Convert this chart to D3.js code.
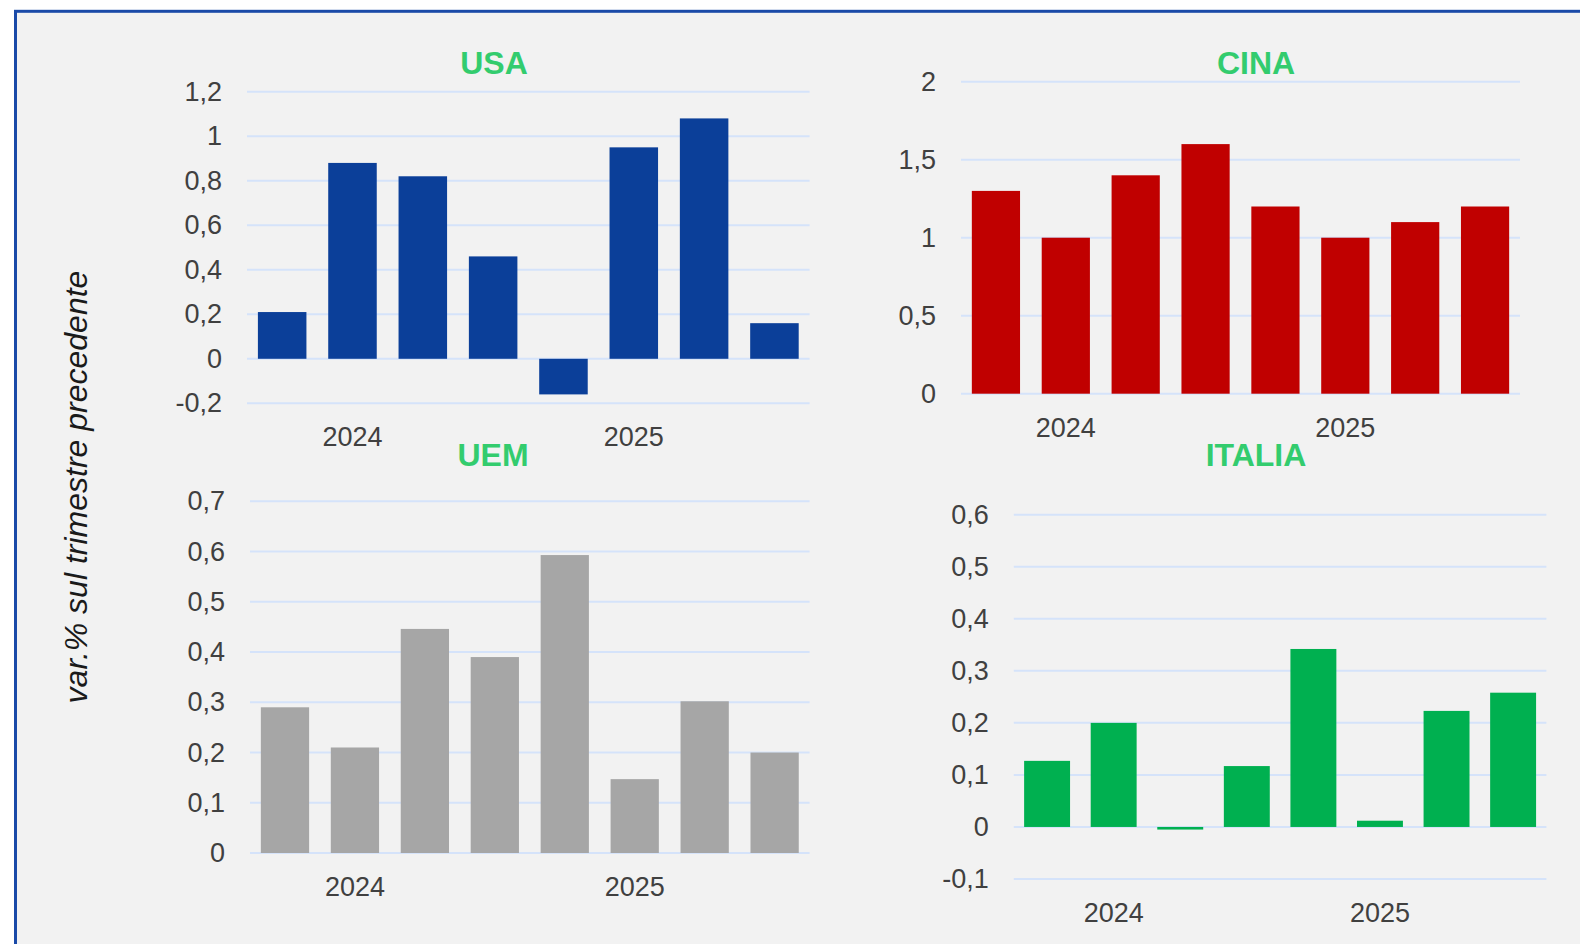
<!DOCTYPE html>
<html>
<head>
<meta charset="utf-8">
<script src="https://cdn.jsdelivr.net/npm/d3@7"></script>
<style>
  html, body { margin: 0; padding: 0; background: #ffffff; }
  svg { display: block; }
</style>
</head>
<body>
<svg id="chart" width="1580" height="944"></svg>
<script>
// ---------------- DATA ----------------
const categories = ["2024 T1", "2024 T2", "2024 T3", "2024 T4", "2025 T1", "2025 T2", "2025 T3", "2025 T4"];
const xTickLabels = ["", "2024", "", "", "", "2025", "", ""];

const usaValues    = [0.21, 0.88, 0.82, 0.46, -0.16, 0.95, 1.08, 0.16];
const cinaValues   = [1.3, 1.0, 1.4, 1.6, 1.2, 1.0, 1.1, 1.2];
const uemValues    = [0.29, 0.21, 0.446, 0.39, 0.593, 0.147, 0.302, 0.20];
const italiaValues = [0.127, 0.20, -0.005, 0.117, 0.342, 0.012, 0.223, 0.258];

const usaTicks    = [-0.2, 0, 0.2, 0.4, 0.6, 0.8, 1, 1.2];
const cinaTicks   = [0, 0.5, 1, 1.5, 2];
const uemTicks    = [0, 0.1, 0.2, 0.3, 0.4, 0.5, 0.6, 0.7];
const italiaTicks = [-0.1, 0, 0.1, 0.2, 0.3, 0.4, 0.5, 0.6];

const panelTitles = ["USA", "CINA", "UEM", "ITALIA"];
const yAxisTitle = "var.% sul trimestre precedente";

// ---------------- LAYOUT / STYLE ----------------
const panels = [
  { title: panelTitles[0], values: usaValues, ticks: usaTicks, color: "#0B3F99",
    x0: 247, x1: 809.6, yTop: 91.7, yBot: 403.3, tx: 494, ty: 62.5 },
  { title: panelTitles[1], values: cinaValues, ticks: cinaTicks, color: "#C00000",
    x0: 961, x1: 1520, yTop: 81.7, yBot: 393.7, tx: 1256, ty: 62.5 },
  { title: panelTitles[2], values: uemValues, ticks: uemTicks, color: "#A6A6A6",
    x0: 250, x1: 809.6, yTop: 501.3, yBot: 853, tx: 493, ty: 454.5 },
  { title: panelTitles[3], values: italiaValues, ticks: italiaTicks, color: "#00B050",
    x0: 1013.8, x1: 1546.4, yTop: 514.7, yBot: 879, tx: 1256, ty: 454.5 }
];

const locale = d3.formatLocale({ decimal: ",", thousands: ".", grouping: [3], currency: ["", "€"], minus: "-" });
const fmt = locale.format("~f");

const svg = d3.select("#chart");

// frame
svg.append("rect")
  .attr("x", 15.5).attr("y", 11.3)
  .attr("width", 1620).attr("height", 1000)
  .attr("fill", "#F2F2F2")
  .attr("stroke", "#1A4AA8")
  .attr("stroke-width", 3);

const tickFont = "'Liberation Sans', Arial, sans-serif";

panels.forEach(p => {
  const ext = d3.extent(p.ticks);
  const y = d3.scaleLinear().domain(ext).range([p.yBot, p.yTop]);
  const x = d3.scaleBand().domain(categories).range([p.x0, p.x1])
    .paddingInner(0.31).paddingOuter(0.155);

  const g = svg.append("g");

  // gridlines
  g.append("g")
    .selectAll("line")
    .data(p.ticks)
    .join("line")
    .attr("x1", p.x0).attr("x2", p.x1)
    .attr("y1", d => y(d)).attr("y2", d => y(d))
    .attr("stroke", "#D5E3FA")
    .attr("stroke-width", 2);

  // y axis labels
  const yAxis = d3.axisLeft(y).tickValues(p.ticks).tickFormat(fmt).tickSize(0).tickPadding(25);
  const ya = g.append("g").attr("transform", `translate(${p.x0},0)`).call(yAxis);
  ya.select(".domain").remove();
  ya.selectAll("text")
    .attr("font-family", tickFont)
    .attr("font-size", 27)
    .attr("fill", "#404040");

  // bars
  g.append("g")
    .selectAll("rect")
    .data(p.values.map((v, i) => ({ v, c: categories[i] })))
    .join("rect")
    .attr("x", d => x(d.c))
    .attr("width", x.bandwidth())
    .attr("y", d => Math.min(y(d.v), y(0)))
    .attr("height", d => Math.abs(y(d.v) - y(0)))
    .attr("fill", p.color);

  // x axis labels
  const xAxis = d3.axisBottom(x).tickFormat((d, i) => xTickLabels[i]).tickSize(0).tickPadding(0);
  const xa = g.append("g").attr("transform", `translate(0,${p.yBot + 43})`).call(xAxis);
  xa.select(".domain").remove();
  xa.selectAll("text")
    .attr("dy", 0)
    .attr("font-family", tickFont)
    .attr("font-size", 27)
    .attr("fill", "#404040");

  // title
  g.append("text")
    .attr("x", p.tx).attr("y", p.ty + 11.5)
    .attr("text-anchor", "middle")
    .attr("font-family", tickFont)
    .attr("font-weight", "bold")
    .attr("font-size", 32)
    .attr("fill", "#33CC6E")
    .text(p.title);
});

// y axis title
svg.append("text")
  .attr("transform", "translate(87,487) rotate(-90)")
  .attr("text-anchor", "middle")
  .attr("font-family", tickFont)
  .attr("font-style", "italic")
  .attr("font-size", 32)
  .attr("fill", "#1A1A1A")
  .text(yAxisTitle);
</script>
</body>
</html>
